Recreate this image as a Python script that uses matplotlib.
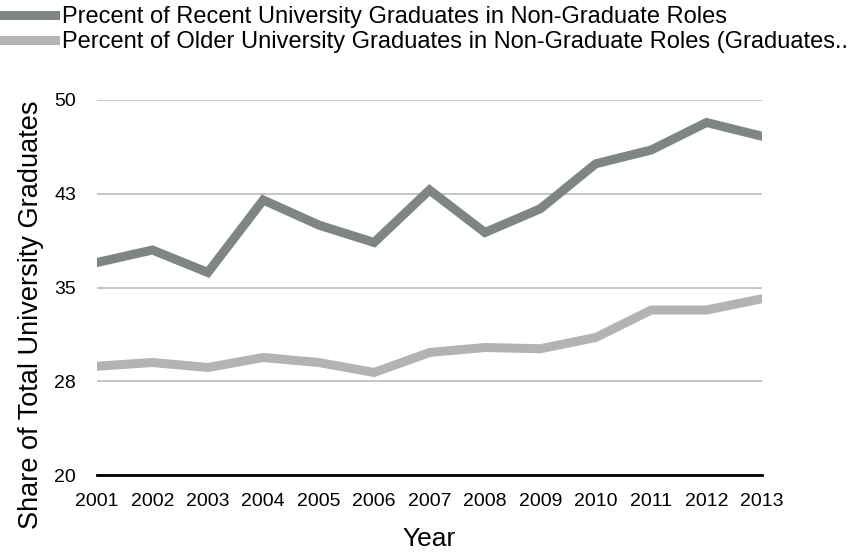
import matplotlib.pyplot as plt

plt.rcParams['font.family'] = ['Liberation Sans', 'DejaVu Sans']

years = [2001, 2002, 2003, 2004, 2005, 2006, 2007, 2008, 2009, 2010, 2011, 2012, 2013]
recientes = [37.0, 38.0, 36.2, 42.0, 40.0, 38.6, 42.8, 39.4, 41.3, 44.9, 46.0, 48.2, 47.1]
mayores = [28.7, 29.0, 28.6, 29.4, 29.0, 28.2, 29.8, 30.2, 30.1, 31.0, 33.2, 33.2, 34.1]

yticks = [20, 27.5, 35, 42.5, 50]
ytick_labels = ['20', '28', '35', '43', '50']

label_rec = 'Precent of Recent University Graduates in Non-Graduate Roles'
label_may = 'Percent of Older University Graduates in Non-Graduate Roles (Graduates..'

fig = plt.figure(figsize=(8.66, 5.55), dpi=100)
ax = fig.add_axes([97 / 866, 80 / 555, 665 / 866, 375 / 555])

l1, = ax.plot(years, recientes, color='#7f8682', lw=6.5, solid_joinstyle='miter')
l2, = ax.plot(years, mayores, color='#b3b3b3', lw=6.5, solid_joinstyle='miter')

ax.set_xlim(2001, 2013)
ax.set_ylim(20, 50)
ax.set_xticks(years)
ax.set_xticklabels([str(y) for y in years], fontsize=14)
ax.set_yticks(yticks)
ax.set_yticklabels(ytick_labels, fontsize=14)
ax.tick_params(length=0)
ax.tick_params(axis='x', pad=13)
ax.tick_params(axis='y', pad=15)
ax.grid(axis='y', color='#c0c0c0', lw=1.3)
ax.set_axisbelow(True)
for s in ['top', 'right', 'left']:
    ax.spines[s].set_visible(False)
ax.spines['bottom'].set_linewidth(2)
ax.spines['bottom'].set_zorder(5)

ax.set_xlabel('Year', fontsize=19)
ax.xaxis.set_label_coords(0.5, -52 / 375)
ax.set_ylabel('Share of Total University Graduates', fontsize=19.5)
ax.yaxis.set_label_coords(-53 / 665, 160 / 375)

fig.legend([l1, l2], [label_rec, label_may], loc='upper left',
           bbox_to_anchor=(4 / 866, 1 - 6 / 555), borderaxespad=0,
           frameon=False, fontsize=17, handlelength=2.15, handletextpad=0.3,
           labelspacing=0.12, borderpad=0)

plt.savefig('out.png')
